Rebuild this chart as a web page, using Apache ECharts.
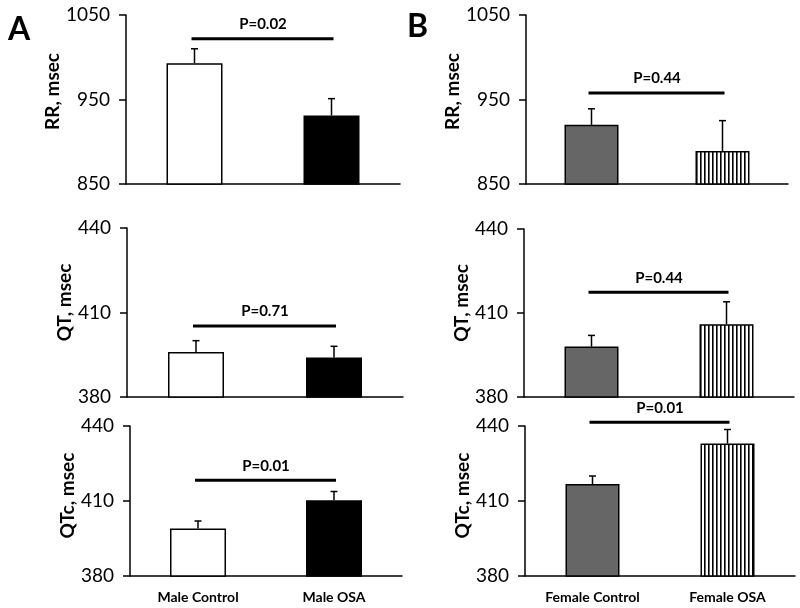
<!DOCTYPE html>
<html>
<head>
<meta charset="utf-8">
<script src="https://cdn.jsdelivr.net/npm/echarts@6/dist/echarts.min.js"></script>
<style>html,body{margin:0;padding:0;background:#fff}#c{width:800px;height:608px}</style>
</head>
<body>
<div id="c"></div>
<script>
// ---- data ----
const maleCategories = ['Male Control', 'Male OSA'];
const femaleCategories = ['Female Control', 'Female OSA'];
const rrTicks = [850, 950, 1050];
const qtTicks = [380, 410, 440];
const qtcTicks = [380, 410, 440];
const maleRR = [993, 931];
const maleRRErr = [17, 20];
const maleQT = [396, 394];
const maleQTErr = [4, 4];
const maleQTc = [399, 410.3];
const maleQTcErr = [3, 3.5];
const femaleRR = [920, 889];
const femaleRRErr = [19, 36];
const femaleQT = [398, 406];
const femaleQTErr = [4, 8];
const femaleQTc = [416.8, 433];
const femaleQTcErr = [3.2, 5.6];
const yNames = ['RR, msec', 'QT, msec', 'QTc, msec'];
const pLabels = ['P=0.02', 'P=0.71', 'P=0.01', 'P=0.44', 'P=0.44', 'P=0.01'];
const pLevels = [1022, 405.2, 418.3, 957.7, 417.4, 441.5];

// ---- styles ----
const FONT = 'Lato';
const hatch = document.createElement('canvas');
hatch.width = 4; hatch.height = 4;
(function () {
  const ctx = hatch.getContext('2d');
  ctx.fillStyle = '#fff'; ctx.fillRect(0, 0, 4, 4);
  ctx.fillStyle = '#000'; ctx.fillRect(0, 0, 1.6, 4);
})();
const maleFills = ['#ffffff', '#000000'];
const femaleFills = ['#666666', { image: hatch, repeat: 'repeat' }];

const panels = [
  { cats: maleCategories, vals: maleRR, errs: maleRRErr, ticks: rrTicks, name: yNames[0], fills: maleFills, grid: { left: 126, top: 15, width: 274, height: 169 }, showX: false, namePad: 16, barW: 56 },
  { cats: maleCategories, vals: maleQT, errs: maleQTErr, ticks: qtTicks, name: yNames[1], fills: maleFills, grid: { left: 127, top: 228, width: 276, height: 169 }, showX: false, namePad: 20, barW: 56 },
  { cats: maleCategories, vals: maleQTc, errs: maleQTcErr, ticks: qtcTicks, name: yNames[2], fills: maleFills, grid: { left: 130, top: 426, width: 272, height: 150 }, showX: true, namePad: 11, barW: 56 },
  { cats: femaleCategories, vals: femaleRR, errs: femaleRRErr, ticks: rrTicks, name: yNames[0], fills: femaleFills, grid: { left: 526, top: 15, width: 262, height: 169 }, showX: false, namePad: 16, barW: 54 },
  { cats: femaleCategories, vals: femaleQT, errs: femaleQTErr, ticks: qtTicks, name: yNames[1], fills: femaleFills, grid: { left: 524, top: 229, width: 270, height: 168 }, showX: false, namePad: 20, barW: 54 },
  { cats: femaleCategories, vals: femaleQTc, errs: femaleQTcErr, ticks: qtcTicks, name: yNames[2], fills: femaleFills, grid: { left: 525, top: 426, width: 270, height: 150 }, showX: true, namePad: 11, barW: 54 }
];

const grids = [], xAxes = [], yAxes = [], series = [];
panels.forEach((p, i) => {
  grids.push(p.grid);
  xAxes.push({
    type: 'category', gridIndex: i, data: p.cats,
    axisLine: { lineStyle: { color: '#000', width: 1.5 } },
    axisTick: { show: false },
    axisLabel: { show: p.showX, color: '#000', fontFamily: FONT, fontWeight: 'bold', fontSize: 14, margin: 14 }
  });
  yAxes.push({
    type: 'value', gridIndex: i,
    min: p.ticks[0], max: p.ticks[p.ticks.length - 1], interval: p.ticks[1] - p.ticks[0],
    splitLine: { show: false },
    axisLine: { show: true, lineStyle: { color: '#000', width: 1.5 } },
    axisTick: { show: true, length: 7, lineStyle: { color: '#000', width: 1.5 } },
    axisLabel: { color: '#000', fontFamily: FONT, fontSize: 19, margin: 16, formatter: v => String(v) },
    name: p.name, nameLocation: 'middle', nameGap: 50,
    nameTextStyle: { color: '#000', fontFamily: FONT, fontWeight: 'bold', fontSize: 19, padding: [0, 0, 0, p.namePad] }
  });
  series.push({
    type: 'bar', xAxisIndex: i, yAxisIndex: i, barWidth: p.barW,
    data: p.vals.map((v, k) => ({ value: v, itemStyle: { color: p.fills[k], borderColor: '#000', borderWidth: 1.5 } })),
    silent: true, animation: false
  });
  series.push({
    type: 'custom', xAxisIndex: i, yAxisIndex: i, z: 5, animation: false, silent: true, clip: false,
    data: p.vals.map((v, k) => [k, v, p.errs[k]]),
    renderItem: function (params, api) {
      const x = api.value(0), v = api.value(1), e = api.value(2);
      const a = api.coord([x, v]), b = api.coord([x, v + e]);
      const st = { stroke: '#000', lineWidth: 1.5 };
      return { type: 'group', children: [
        { type: 'line', shape: { x1: a[0], y1: a[1], x2: b[0], y2: b[1] }, style: st },
        { type: 'line', shape: { x1: b[0] - 3.5, y1: b[1], x2: b[0] + 3.5, y2: b[1] }, style: st }
      ] };
    }
  });
  series.push({
    type: 'custom', xAxisIndex: i, yAxisIndex: i, z: 5, animation: false, silent: true, clip: false,
    data: [[0, 1, pLevels[i]]],
    renderItem: function (params, api) {
      const lvl = api.value(2);
      const a = api.coord([0, lvl]), b = api.coord([1, lvl]);
      return { type: 'group', children: [
        { type: 'line', shape: { x1: a[0] - 3, y1: a[1], x2: b[0] + 2, y2: b[1] }, style: { stroke: '#000', lineWidth: 3 } },
        { type: 'text', x: (a[0] + b[0]) / 2, y: a[1] - 7,
          style: { text: pLabels[i], fill: '#000', font: 'bold 15px ' + FONT, textAlign: 'center', textVerticalAlign: 'bottom' } }
      ] };
    }
  });
});

const chart = echarts.init(document.getElementById('c'), null, { renderer: 'canvas' });
chart.setOption({
  backgroundColor: '#fff',
  animation: false,
  grid: grids, xAxis: xAxes, yAxis: yAxes, series: series,
  graphic: [
    { type: 'text', left: 8, top: 14, style: { text: 'A', font: 'bold 32px ' + FONT, fill: '#000' } },
    { type: 'text', left: 407, top: 11, style: { text: 'B', font: 'bold 32px ' + FONT, fill: '#000' } }
  ]
});
</script>
</body>
</html>
